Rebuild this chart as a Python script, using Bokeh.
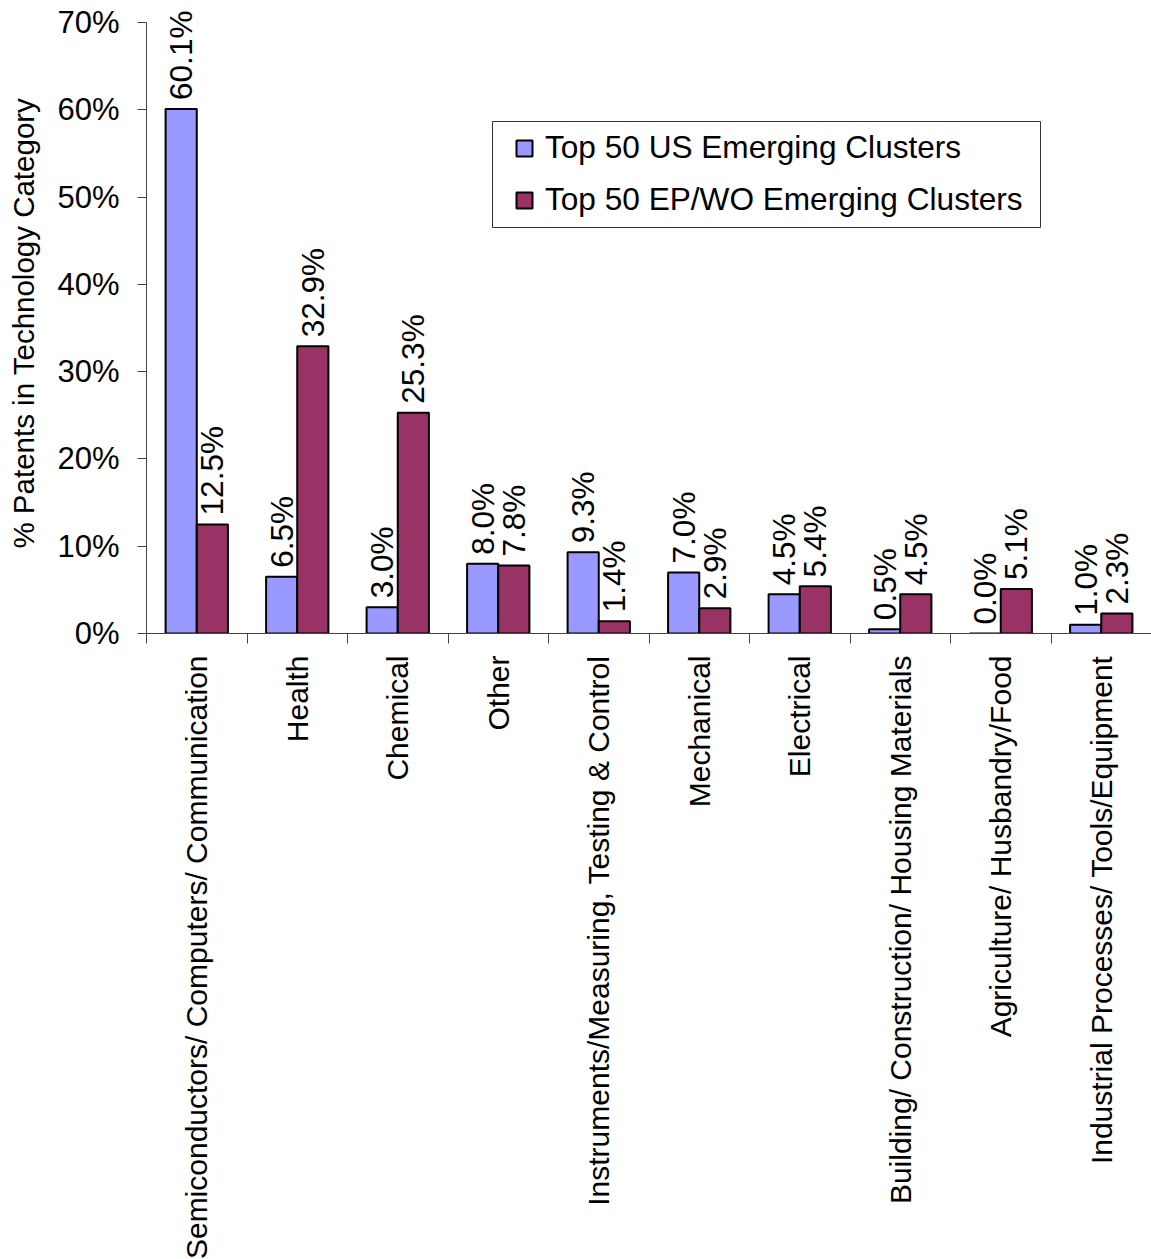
import math
from bokeh.plotting import figure
from bokeh.core.properties import value
from bokeh.models import (ColumnDataSource, Range1d, LinearAxis, BoxAnnotation,
                          FixedTicker, NumeralTickFormatter, LabelSet, Legend, LegendItem)
from bokeh.embed import file_html
from bokeh.resources import INLINE

categories = [
    "Semiconductors/ Computers/ Communication",
    "Health",
    "Chemical",
    "Other",
    "Instruments/Measuring, Testing & Control",
    "Mechanical",
    "Electrical",
    "Building/ Construction/ Housing Materials",
    "Agriculture/ Husbandry/Food",
    "Industrial Processes/ Tools/Equipment",
]
us_values = [60.1, 6.5, 3.0, 8.0, 9.3, 7.0, 4.5, 0.5, 0.0, 1.0]
ep_values = [12.5, 32.9, 25.3, 7.8, 1.4, 2.9, 5.4, 4.5, 5.1, 2.3]
series_names = ["Top 50 US Emerging Clusters", "Top 50 EP/WO Emerging Clusters"]
y_ticks = [0, 0.1, 0.2, 0.3, 0.4, 0.5, 0.6, 0.7]
y_max = 0.70

FONT = "Liberation Sans"
BLUE = "#9999FF"
RED = "#993366"
bw = 0.31
n = len(categories)
centers = [i + 0.5 for i in range(n)]

# frame: 611 px for 0..70%, plus 18 px of headroom for the top value label
AXIS_PX = 611
HEAD_PX = 18
y_top = y_max * (AXIS_PX + HEAD_PX) / AXIS_PX

src = ColumnDataSource(dict(
    cat=categories,
    x_us=[c - bw / 2 for c in centers],
    x_ep=[c + bw / 2 for c in centers],
    us=[v / 100 for v in us_values],
    ep=[v / 100 for v in ep_values],
    us_lbl=["%.1f%%" % v for v in us_values],
    ep_lbl=["%.1f%%" % v for v in ep_values],
))

p = figure(
    x_range=Range1d(0, n),
    y_range=Range1d(0, y_top),
    frame_width=1005, frame_height=AXIS_PX + HEAD_PX,
    min_border_left=146, min_border_top=22 - HEAD_PX, min_border_right=0, min_border_bottom=0,
    output_backend="svg", toolbar_location=None,
    x_axis_location=None, y_axis_location=None,
)
p.outline_line_color = None
p.xgrid.visible = False
p.ygrid.visible = False
p.background_fill_color = "white"
p.border_fill_color = "white"

# y axis
yax = LinearAxis(
    ticker=FixedTicker(ticks=y_ticks),
    formatter=NumeralTickFormatter(format="0%"),
    axis_label="% Patents in Technology  Category",
    bounds=(0, y_max),
)
yax.axis_label_text_font = FONT
yax.axis_label_text_font_size = "29.5px"
yax.axis_label_text_font_style = "normal"
yax.axis_label_text_color = "black"
yax.axis_label_standoff = 14
yax.major_label_text_font = FONT
yax.major_label_text_font_size = "31px"
yax.major_label_text_color = "black"
yax.major_label_standoff = 18
yax.major_tick_out = 9
yax.major_tick_in = 0
yax.minor_tick_line_color = None
yax.axis_line_color = "#444444"
yax.major_tick_line_color = "#444444"
p.add_layout(yax, "left")

# x tick axis (ticks at category boundaries)
tax = LinearAxis(ticker=FixedTicker(ticks=list(range(n + 1))))
tax.major_label_text_font_size = "0px"
tax.major_label_text_color = None
tax.major_label_standoff = 0
tax.major_tick_out = 10
tax.major_tick_in = 0
tax.minor_tick_line_color = None
tax.axis_line_color = "#444444"
tax.major_tick_line_color = "#444444"
p.add_layout(tax, "below")

# category labels axis
cax = LinearAxis(ticker=FixedTicker(ticks=centers),
                 major_label_overrides={c: name for c, name in zip(centers, categories)})
cax.axis_line_color = None
cax.major_tick_line_color = None
cax.minor_tick_line_color = None
cax.major_tick_out = 0
cax.major_tick_in = 0
cax.major_label_orientation = math.pi / 2
cax.major_label_text_font = FONT
cax.major_label_text_font_size = "30px"
cax.major_label_text_color = "black"
cax.major_label_standoff = 12
p.add_layout(cax, "below")

r_us = p.vbar(x="x_us", top="us", width=bw, source=src,
              fill_color=BLUE, line_color="black", line_width=2)
r_ep = p.vbar(x="x_ep", top="ep", width=bw, source=src,
              fill_color=RED, line_color="black", line_width=2)

for xc, col, lbl in (("x_us", "us", "us_lbl"), ("x_ep", "ep", "ep_lbl")):
    ls = LabelSet(x=xc, y=col, text=lbl, source=src,
                  angle=math.pi / 2, text_align="left", text_baseline="middle",
                  y_offset=9, text_font=value(FONT), text_font_size=value("31.5px"),
                  text_color="black")
    p.add_layout(ls)

# legend frame
frame_box = BoxAnnotation(left=492, right=1040, top=121, bottom=227,
                          left_units="canvas", right_units="canvas",
                          top_units="canvas", bottom_units="canvas",
                          fill_color="white", fill_alpha=1,
                          line_color="#333333", line_width=1, line_alpha=1)
p.add_layout(frame_box)

legend = Legend(items=[LegendItem(label=series_names[0], renderers=[r_us]),
                       LegendItem(label=series_names[1], renderers=[r_ep])],
                location=(368, 415))
legend.label_text_font = FONT
legend.label_text_font_size = "31.6px"
legend.label_text_color = "black"
legend.glyph_width = 20
legend.glyph_height = 20
legend.label_standoff = 11
legend.padding = 0
legend.spacing = 15
legend.margin = 0
legend.border_line_color = None
legend.background_fill_alpha = 0
p.add_layout(legend, "center")

open("out.html", "w").write(file_html(p, INLINE))
